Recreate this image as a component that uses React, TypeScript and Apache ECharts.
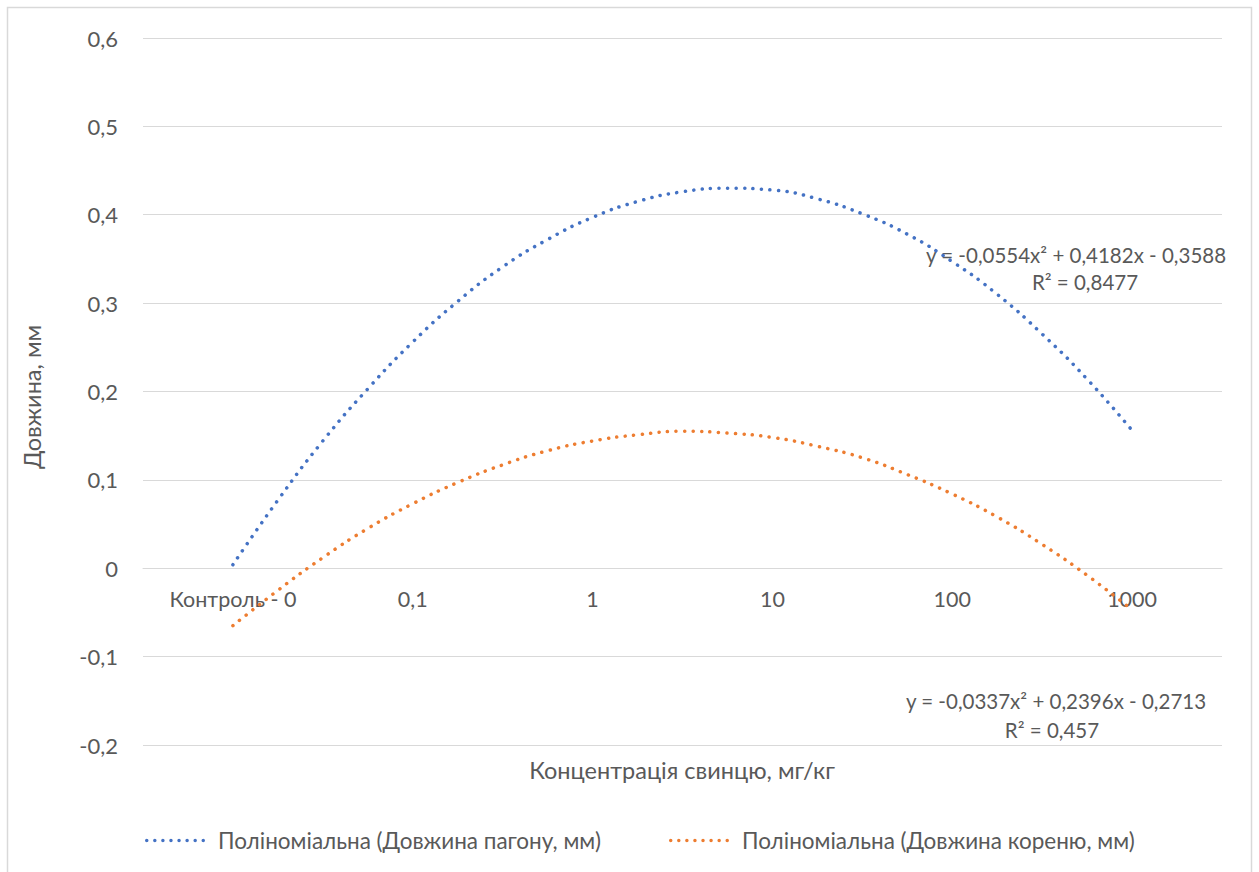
import React, { useEffect, useRef } from "react";
import * as echarts from "echarts";

const categories = ["Контроль - 0", "0,1", "1", "10", "100", "1000"];
const trendX = [1, 1.25, 1.5, 1.75, 2, 2.25, 2.5, 2.75, 3, 3.25, 3.5, 3.75, 4, 4.25, 4.5, 4.75, 5, 5.25, 5.5, 5.75, 6];
const shootValues = [
  0.004, 0.077, 0.144, 0.203, 0.256, 0.302, 0.341, 0.372, 0.397, 0.415, 0.426,
  0.430, 0.428, 0.418, 0.401, 0.378, 0.347, 0.310, 0.265, 0.214, 0.156,
];
const rootValues = [
  -0.065, -0.025, 0.012, 0.045, 0.073, 0.097, 0.117, 0.133, 0.144, 0.151, 0.155,
  0.153, 0.148, 0.138, 0.125, 0.106, 0.084, 0.058, 0.027, -0.008, -0.047,
];
const seriesNames = [
  "Поліноміальна (Довжина пагону, мм)",
  "Поліноміальна (Довжина кореню, мм)",
];
const shootEquation = ["y = -0,0554x² + 0,4182x - 0,3588", "R² = 0,8477"];
const rootEquation = ["y = -0,0337x² + 0,2396x - 0,2713", "R² = 0,457"];
const yTitle = "Довжина, мм";
const xTitle = "Концентрація свинцю, мг/кг";

const FONT = 'Lato, "Open Sans", sans-serif';
const TXT = "#595959";
const GRID = "#d9d9d9";
const BLUE = "#4472C4";
const ORANGE = "#ED7D31";

function dotsIcon(): string {
  let d = "path://";
  const r = 1.75;
  for (let i = 0; i < 8; i++) {
    const cx = r + i * 8.07;
    d += `M${cx - r},${r}a${r},${r} 0 1,0 ${2 * r},0a${r},${r} 0 1,0 ${-2 * r},0Z`;
  }
  return d;
}

export default function App() {
  const ref = useRef<HTMLDivElement>(null);
  useEffect(() => {
    if (!ref.current) return;
    const chart = echarts.init(ref.current, undefined, { renderer: "svg" });
    const dots = { width: 3.5, type: [0.1, 8.4] as any, cap: "round" as any };
    const mk = (xs: number[], ys: number[]) => xs.map((x, i) => [x, ys[i]]);
    const icon = dotsIcon();
    const txt = (x: number, y: number, text: string, size: number, extra: any = {}) => ({
      type: "text",
      x,
      y,
      ...extra,
      style: { text, fill: TXT, font: `${size}px ${FONT}`, align: "center", verticalAlign: "middle" },
    });
    chart.setOption({
      animation: false,
      textStyle: { fontFamily: FONT, color: TXT },
      grid: { left: 143, right: 37, top: 38, bottom: 127 },
      xAxis: [
        {
          type: "category",
          data: categories,
          boundaryGap: true,
          position: "bottom",
          offset: -176.75,
          axisLine: { show: true, onZero: false, lineStyle: { color: GRID, width: 1 } },
          axisTick: { show: false },
          axisLabel: { margin: 20, color: TXT, fontSize: 21.5, fontFamily: FONT },
          splitLine: { show: false },
        },
        {
          type: "value",
          min: 0.5,
          max: 6.5,
          show: false,
          axisLine: { onZero: false },
        },
      ],
      yAxis: {
        type: "value",
        min: -0.2,
        max: 0.6,
        interval: 0.1,
        axisLine: { show: false, onZero: false },
        axisTick: { show: false },
        axisLabel: {
          margin: 25,
          color: TXT,
          fontSize: 22,
          fontFamily: FONT,
          formatter: (v: number) => (Math.abs(v) < 1e-9 ? "0" : v.toFixed(1).replace(".", ",")),
        },
        splitLine: { lineStyle: { color: GRID, width: 1 } },
      },
      legend: {
        left: 140,
        top: 824,
        itemWidth: 60,
        itemHeight: 4,
        itemGap: 68,
        textStyle: { color: TXT, fontSize: 22.5, fontFamily: FONT, padding: [0, 0, 0, 8] },
        data: seriesNames.map((name) => ({ name, icon })),
      },
      series: [
        {
          name: seriesNames[0],
          type: "line",
          xAxisIndex: 1,
          data: mk(trendX, shootValues),
          smooth: true,
          symbol: "none",
          lineStyle: { ...dots, color: BLUE },
          itemStyle: { color: BLUE },
        },
        {
          name: seriesNames[1],
          type: "line",
          xAxisIndex: 1,
          data: mk(trendX, rootValues),
          smooth: true,
          symbol: "none",
          lineStyle: { ...dots, color: ORANGE },
          itemStyle: { color: ORANGE },
        },
      ],
      graphic: [
        {
          type: "rect",
          shape: { x: 7.5, y: 7.5, width: 1244, height: 900 },
          style: { fill: "none", stroke: GRID, lineWidth: 1.5 },
          silent: true,
        },
        txt(32, 397, yTitle, 23.5, { rotation: Math.PI / 2 }),
        txt(682, 770, xTitle, 23.5),
        txt(1076, 255, shootEquation[0], 20.5),
        txt(1085, 282, shootEquation[1], 20.5),
        txt(1056, 701, rootEquation[0], 20.5),
        txt(1052, 730, rootEquation[1], 20.5),
      ],
    });
    return () => chart.dispose();
  }, []);
  return (
    <div
      ref={ref}
      style={{ position: "absolute", left: 0, top: 0, width: 1259, height: 872, background: "#fff" }}
    />
  );
}
